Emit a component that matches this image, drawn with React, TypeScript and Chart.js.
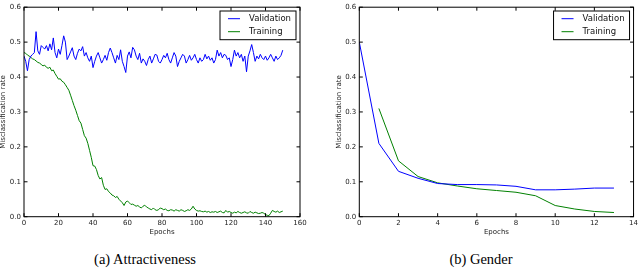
import React, { useEffect, useRef } from "react";
import { Chart, registerables } from "chart.js";
Chart.register(...registerables);

// ---------- Data ----------
const seriesLabels = ["Validation", "Training"];
const seriesColors = ["#0000ff", "#008000"];
const yTicks = [0, 0.1, 0.2, 0.3, 0.4, 0.5, 0.6];

// (a) Attractiveness — epochs 0..150
const attrXTicks = [0, 20, 40, 60, 80, 100, 120, 140, 160];
const attrValidation = [
  0.46, 0.445, 0.418, 0.45, 0.46, 0.465, 0.47, 0.53, 0.475, 0.465,
  0.49, 0.485, 0.48, 0.49, 0.475, 0.495, 0.478, 0.512, 0.47, 0.455,
  0.48, 0.465, 0.49, 0.518, 0.5, 0.45, 0.46, 0.472, 0.484, 0.46,
  0.45, 0.468, 0.48, 0.475, 0.487, 0.46, 0.47, 0.455, 0.445, 0.46,
  0.427, 0.445, 0.46, 0.47, 0.455, 0.44, 0.45, 0.462, 0.448, 0.47,
  0.483, 0.47, 0.455, 0.44, 0.462, 0.45, 0.478, 0.445, 0.43, 0.413,
  0.46, 0.472, 0.455, 0.485, 0.478, 0.46, 0.45, 0.468, 0.44, 0.452,
  0.445, 0.433, 0.45, 0.46, 0.44, 0.452, 0.465, 0.463, 0.445, 0.44,
  0.45, 0.462, 0.455, 0.468, 0.45, 0.44, 0.455, 0.47, 0.46, 0.43,
  0.445, 0.455, 0.465, 0.46, 0.44, 0.45, 0.462, 0.448, 0.455, 0.465,
  0.45, 0.44, 0.455, 0.445, 0.45, 0.465, 0.452, 0.46, 0.448, 0.455,
  0.44, 0.45, 0.477, 0.46, 0.47, 0.455, 0.465, 0.462, 0.45, 0.455,
  0.43, 0.45, 0.477, 0.46, 0.47, 0.455, 0.465, 0.445, 0.46, 0.415,
  0.46, 0.475, 0.493, 0.47, 0.445, 0.46, 0.452, 0.465, 0.455, 0.45,
  0.46, 0.448, 0.455, 0.465, 0.455, 0.445, 0.46, 0.45, 0.455, 0.462,
  0.477,
];
const attrTraining = [
  0.47, 0.468, 0.463, 0.46, 0.456, 0.452, 0.45, 0.446, 0.442, 0.44,
  0.436, 0.432, 0.434, 0.428, 0.425, 0.428, 0.418, 0.42, 0.41, 0.402,
  0.394, 0.395, 0.388, 0.385, 0.378, 0.37, 0.362, 0.348, 0.333, 0.318,
  0.305, 0.29, 0.275, 0.268, 0.25, 0.232, 0.225, 0.21, 0.19, 0.17,
  0.146, 0.145, 0.135, 0.118, 0.108, 0.112, 0.09, 0.078, 0.08, 0.072,
  0.068, 0.062, 0.06, 0.055, 0.058, 0.05, 0.045, 0.04, 0.032, 0.042,
  0.045, 0.04, 0.035, 0.036, 0.033, 0.03, 0.032, 0.028, 0.025, 0.03,
  0.033, 0.028, 0.025, 0.022, 0.02, 0.025, 0.02, 0.018, 0.02, 0.025,
  0.023, 0.02, 0.022, 0.018, 0.017, 0.02, 0.019, 0.016, 0.02, 0.018,
  0.016, 0.02, 0.018, 0.015, 0.017, 0.02, 0.018, 0.022, 0.03, 0.022,
  0.018, 0.016, 0.017, 0.015, 0.014, 0.016, 0.013, 0.015, 0.012, 0.014,
  0.013, 0.015, 0.012, 0.014, 0.016, 0.012, 0.011, 0.018, 0.013, 0.015,
  0.012, 0.01, 0.013, 0.011, 0.015, 0.012, 0.01, 0.012, 0.014, 0.011,
  0.01, 0.015, 0.012, 0.01, 0.013, 0.011, 0.009, 0.01, 0.012, 0.01,
  0.006, 0.004, 0.003, 0.01, 0.018, 0.015, 0.013, 0.016, 0.012, 0.014,
  0.016,
];

// (b) Gender — epochs 0..13
const genderXTicks = [0, 2, 4, 6, 8, 10, 12, 14];
const genderEpochs = [0, 1, 2, 3, 4, 5, 6, 7, 8, 9, 10, 11, 12, 13];
const genderValidation = [0.5, 0.21, 0.13, 0.11, 0.095, 0.092, 0.092, 0.091, 0.087, 0.077, 0.077, 0.079, 0.082, 0.082];
const genderTraining = [null, 0.31, 0.16, 0.115, 0.097, 0.088, 0.08, 0.075, 0.07, 0.06, 0.032, 0.022, 0.015, 0.012];

const FONT = "'DejaVu Sans', sans-serif";

// ---------- Plugin: frame, inward ticks, legend ----------
const framePlugin = {
  id: "mplFrame",
  afterDatasetsDraw(chart: any) {
    const { ctx, chartArea: a, scales } = chart;
    ctx.save();
    ctx.strokeStyle = "#000";
    ctx.lineWidth = 1;
    ctx.strokeRect(a.left, a.top, a.right - a.left, a.bottom - a.top);
    const L = 3.5;
    ctx.beginPath();
    scales.x.ticks.forEach((t: any) => {
      const px = scales.x.getPixelForValue(t.value);
      ctx.moveTo(px, a.bottom);
      ctx.lineTo(px, a.bottom - L);
      ctx.moveTo(px, a.top);
      ctx.lineTo(px, a.top + L);
    });
    scales.y.ticks.forEach((t: any) => {
      const py = scales.y.getPixelForValue(t.value);
      ctx.moveTo(a.left, py);
      ctx.lineTo(a.left + L, py);
      ctx.moveTo(a.right, py);
      ctx.lineTo(a.right - L, py);
    });
    ctx.stroke();

    // legend box
    const w = 76;
    const h = 28.7;
    const bx = a.right - 4 - w;
    const by = a.top + 3.8;
    ctx.fillStyle = "#fff";
    ctx.fillRect(bx, by, w, h);
    ctx.strokeStyle = "#000";
    ctx.strokeRect(bx, by, w, h);
    ctx.font = `8.5px ${FONT}`;
    ctx.textBaseline = "middle";
    ctx.textAlign = "left";
    chart.data.datasets.forEach((ds: any, i: number) => {
      const ry = by + 7.7 + i * 13;
      ctx.strokeStyle = ds.borderColor;
      ctx.lineWidth = 1;
      ctx.beginPath();
      ctx.moveTo(bx + 8, ry);
      ctx.lineTo(bx + 20, ry);
      ctx.stroke();
      ctx.fillStyle = "#111";
      ctx.fillText(ds.label, bx + 29, ry);
    });
    ctx.restore();
  },
};

function makeConfig(
  xs: number[],
  val: (number | null)[],
  train: (number | null)[],
  xTicks: number[],
  padLeft: number,
  padRight: number
): any {
  const toPts = (arr: (number | null)[]) => arr.map((v, i) => ({ x: xs[i], y: v }));
  return {
    type: "line",
    data: {
      datasets: [
        {
          label: seriesLabels[0],
          data: toPts(val),
          borderColor: seriesColors[0],
          borderWidth: 1,
          pointRadius: 0,
          tension: 0,
          fill: false,
        },
        {
          label: seriesLabels[1],
          data: toPts(train),
          borderColor: seriesColors[1],
          borderWidth: 1,
          pointRadius: 0,
          tension: 0,
          fill: false,
        },
      ],
    },
    options: {
      responsive: false,
      animation: false,
      events: [],
      layout: { padding: { left: padLeft, right: padRight, top: 3.5, bottom: 4.8 } },
      plugins: { legend: { display: false }, tooltip: { enabled: false } },
      scales: {
        x: {
          type: "linear",
          min: xTicks[0],
          max: xTicks[xTicks.length - 1],
          afterBuildTicks: (s: any) => {
            s.ticks = xTicks.map((v) => ({ value: v }));
          },
          afterFit: (s: any) => {
            s.height = 18.5;
          },
          grid: { display: false, drawTicks: false, tickLength: 0 },
          border: { display: false },
          ticks: {
            autoSkip: false,
            maxRotation: 0,
            padding: 2,
            color: "#222",
            font: { family: FONT, size: 7 },
            callback: (v: any) => String(v),
          },
          title: {
            display: true,
            text: "Epochs",
            color: "#222",
            padding: 0,
            font: { family: FONT, size: 7, lineHeight: 1 },
          },
        },
        y: {
          type: "linear",
          min: yTicks[0],
          max: yTicks[yTicks.length - 1],
          afterBuildTicks: (s: any) => {
            s.ticks = yTicks.map((v) => ({ value: v }));
          },
          afterFit: (s: any) => {
            s.width = 24;
          },
          grid: { display: false, drawTicks: false, tickLength: 0 },
          border: { display: false },
          ticks: {
            autoSkip: false,
            padding: 3,
            color: "#222",
            font: { family: FONT, size: 7 },
            callback: (v: any) => Number(v).toFixed(1),
          },
          title: {
            display: true,
            text: "Misclassification rate",
            color: "#222",
            padding: 0,
            font: { family: FONT, size: 7, lineHeight: 1 },
          },
        },
      },
    },
    plugins: [framePlugin],
  };
}

function ChartCanvas({ config, left }: { config: any; left: number }) {
  const ref = useRef<HTMLCanvasElement | null>(null);
  useEffect(() => {
    if (!ref.current) return;
    const chart = new Chart(ref.current, config);
    return () => chart.destroy();
  }, [config]);
  return (
    <canvas
      ref={ref}
      width={320}
      height={240}
      style={{ position: "absolute", left, top: 0, width: 320, height: 240 }}
    />
  );
}

const attrEpochs = attrValidation.map((_, i) => i);
const attrConfig = makeConfig(attrEpochs, attrValidation, attrTraining, attrXTicks, 0, 20);
const genderConfig = makeConfig(genderEpochs, genderValidation, genderTraining, genderXTicks, 15.3, 5);

const captionStyle: React.CSSProperties = {
  position: "absolute",
  top: 252,
  fontFamily: "'Liberation Serif', 'Times New Roman', serif",
  fontSize: 14.5,
  lineHeight: "14.5px",
  color: "#000",
  textAlign: "center",
  whiteSpace: "nowrap",
};

export default function App() {
  return (
    <div
      style={{
        position: "absolute",
        left: 0,
        top: 0,
        width: 640,
        height: 268,
        background: "#fff",
        overflow: "hidden",
      }}
    >
      <ChartCanvas config={attrConfig} left={0} />
      <ChartCanvas config={genderConfig} left={320} />
      <div style={{ ...captionStyle, left: 0, width: 290 }}>(a) Attractiveness</div>
      <div style={{ ...captionStyle, left: 321, width: 320 }}>(b) Gender</div>
    </div>
  );
}
